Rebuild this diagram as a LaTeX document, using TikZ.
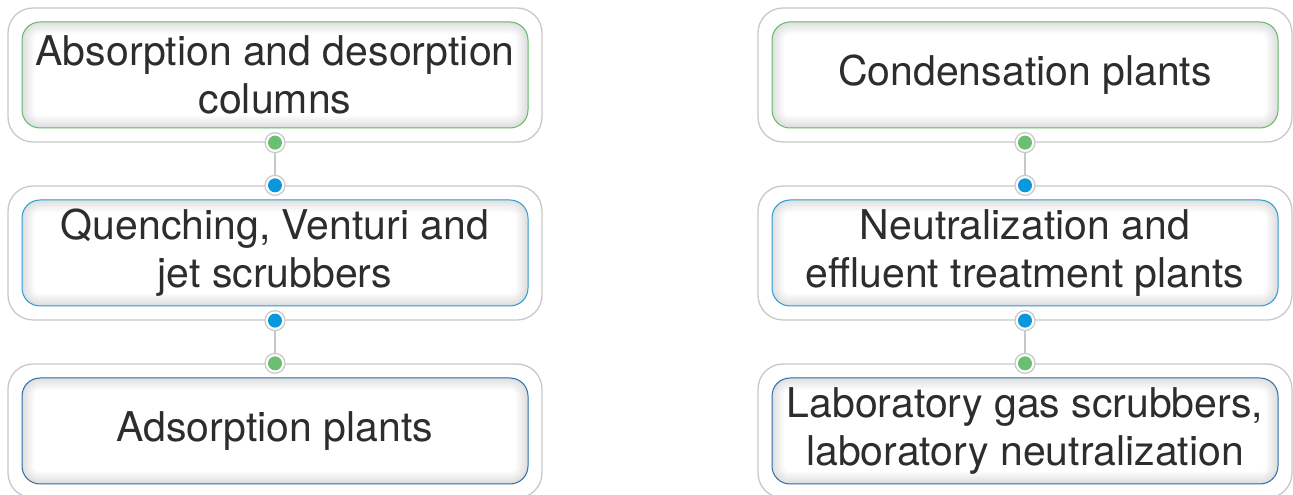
\documentclass[tikz,border=0pt]{standalone}
\usepackage{fontspec}
\setmainfont{TeX Gyre Heros}
\usepackage{tikz}
\usetikzlibrary{positioning}

\begin{document}
\begin{tikzpicture}[x=1pt, y=1pt, node distance=178pt]
    \definecolor{mygreen}{RGB}{96,186,102}
    \definecolor{mygreend}{RGB}{106,192,112}
    \definecolor{myblues}{RGB}{40,156,214}
    \definecolor{mybluedot}{RGB}{10,152,220}
    \definecolor{myblued}{RGB}{44,108,170}
    \definecolor{mytext}{RGB}{45,45,45}
    \definecolor{myframe}{RGB}{200,200,200}

    % outer frame, inner box, joint dot, connector
    \tikzstyle{outerbox}=[rectangle, rounded corners=25pt, draw=myframe, line width=1.3pt,
        fill=white, minimum width=534pt, minimum height=134pt]
    \tikzstyle{innerbox}=[rectangle, rounded corners=18pt, line width=1pt, fill=white,
        minimum width=506pt, minimum height=106pt, align=center, text=mytext,
        font=\fontsize{41}{48}\selectfont,
        path picture={
            \foreach \w in {3,6,...,24}
                \draw[black, opacity=0.014, line width=\w pt, rounded corners=18pt]
                    (path picture bounding box.south west) rectangle (path picture bounding box.north east);
        }]
    \tikzstyle{joint}=[circle, draw=myframe, line width=1.2pt, fill=white,
        minimum size=20pt, inner sep=0pt]
    \tikzstyle{link}=[draw=myframe, line width=1.5pt]

    \useasboundingbox (0,0) rectangle (1293,495);

    % left column
    \node[outerbox](lo1) at (275,420) {};
    \node[outerbox, below of=lo1](lo2) {};
    \node[outerbox, below of=lo2](lo3) {};
    \node[innerbox, draw=mygreen] (li1) at (lo1) {Absorption and desorption\\columns};
    \node[innerbox, draw=myblues] (li2) at (lo2) {Quenching, Venturi and\\jet scrubbers};
    \node[innerbox, draw=myblued] (li3) at (lo3) {Adsorption plants};

    % right column
    \node[outerbox](ro1) at (1025,420) {};
    \node[outerbox, below of=ro1](ro2) {};
    \node[outerbox, below of=ro2](ro3) {};
    \node[innerbox, draw=mygreen] (ri1) at (ro1) {Condensation plants};
    \node[innerbox, draw=myblues] (ri2) at (ro2) {Neutralization and\\effluent treatment plants};
    \node[innerbox, draw=myblued] (ri3) at (ro3) {Laboratory gas scrubbers,\\laboratory neutralization};

    % joints
    \foreach \c in {l,r}{
        \node[joint](\c d1) at (\c o1.south) {};
        \node[joint](\c d2) at (\c o2.north) {};
        \node[joint](\c d3) at (\c o2.south) {};
        \node[joint](\c d4) at (\c o3.north) {};
        \fill[mygreend] (\c d1) circle (7pt);
        \fill[mybluedot] (\c d2) circle (7pt);
        \fill[mybluedot] (\c d3) circle (7pt);
        \fill[mygreend] (\c d4) circle (7pt);
        \draw[link](\c d1)--(\c d2);
        \draw[link](\c d3)--(\c d4);
    }
\end{tikzpicture}
\end{document}
